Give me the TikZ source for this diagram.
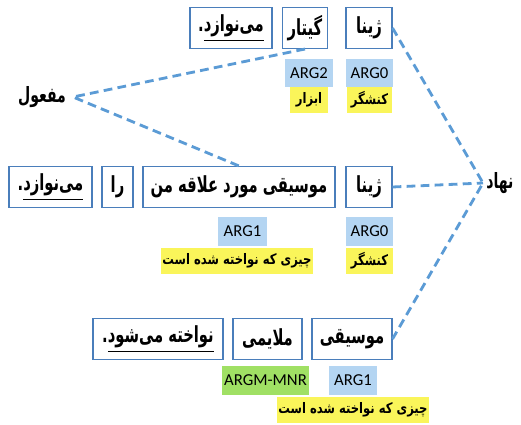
\documentclass[tikz,border=0pt]{standalone}
\usepackage{fontspec}
\usepackage{xcolor}
\usepackage{graphicx}
\usepackage{tikz}
\usetikzlibrary{positioning}
\TeXXeTstate=1
\newfontfamily\arabicfont[Script=Arabic]{DejaVu Sans}
\newfontfamily\labelfont{Carlito}
\newcommand{\fatext}[1]{{\arabicfont\beginR #1\endR}}
\newcommand{\wordtext}[1]{\scalebox{0.8}[1.2]{\fatext{#1}}}
\newcommand{\roletext}[1]{\scalebox{0.88}[1.1]{\fatext{#1}}}
\definecolor{BoxEdge}{RGB}{74,126,187}
\definecolor{DashBlue}{RGB}{91,155,213}
\definecolor{ArgBlue}{RGB}{180,213,242}
\definecolor{RoleYellow}{RGB}{250,245,90}
\definecolor{MnrGreen}{RGB}{160,224,100}
\tikzset{
  wbox/.style={draw=BoxEdge,fill=white,line width=0.6pt,minimum height=0.82cm,inner sep=2pt,font=\arabicfont\fontsize{10.5}{13}\selectfont\bfseries},
  abox/.style={fill=ArgBlue,minimum height=0.57cm,inner sep=1pt,font=\labelfont\fontsize{9.5}{10}\selectfont},
  gbox/.style={fill=MnrGreen,minimum height=0.57cm,inner sep=1pt,font=\labelfont\fontsize{9.5}{10}\selectfont},
  ybox/.style={fill=RoleYellow,minimum height=0.53cm,inner sep=1pt,font=\arabicfont\fontsize{7.5}{9}\selectfont\bfseries},
  tag/.style={font=\arabicfont\fontsize{10}{12}\selectfont\bfseries},
  dline/.style={DashBlue,line width=1.6pt,dash pattern=on 5pt off 3pt},
}
\begin{document}
\begin{tikzpicture}[x=0.02cm,y=-0.02cm]
  \useasboundingbox (0,0) rectangle (521,425);
  % first sentence
  \node[wbox,minimum width=0.92cm] (zinaA) at (369,28) {\wordtext{ژینا}};
  \node[wbox,minimum width=0.9cm] (guitar) at (305,28) {\wordtext{گیتار}};
  \node[wbox,minimum width=1.64cm] (verbA) at (231,28) {\wordtext{\underline{\beginR می‌نوازد\endR}.}};
  \node[abox,minimum width=0.94cm] (argzA) at (369.5,73) {ARG0};
  \node[ybox,minimum width=0.9cm] (agentA) at (369.5,100) {\roletext{کنشگر}};
  \node[abox,minimum width=0.96cm] (argtwo) at (309,73) {ARG2};
  \node[ybox,minimum width=0.76cm] (instr) at (309,100) {\roletext{ابزار}};
  % second sentence
  \node[wbox,minimum width=1.66cm] (verbB) at (50.5,187) {\wordtext{\underline{\beginR می‌نوازد\endR}.}};
  \node[wbox,minimum width=0.62cm] (ra) at (117.5,187) {\wordtext{را}};
  \node[wbox,minimum width=3.84cm] (music) at (239,187) {\wordtext{موسیقی مورد علاقه من}};
  \node[wbox,minimum width=0.92cm] (zinaB) at (369,187) {\wordtext{ژینا}};
  \node[abox,minimum width=0.98cm] (argoneB) at (242.5,231.5) {ARG1};
  \node[ybox,minimum width=2.6cm] (playedB) at (237,261) {\roletext{چیزی که نواخته شده است}};
  \node[abox,minimum width=0.94cm] (argzB) at (369.5,231.5) {ARG0};
  \node[ybox,minimum width=0.94cm] (agentB) at (369.5,261) {\roletext{کنشگر}};
  % third sentence
  \node[wbox,minimum width=1.6cm] (musicC) at (352,339) {\wordtext{موسیقی}};
  \node[wbox,minimum width=1.38cm] (soft) at (267.5,339) {\wordtext{ملایمی}};
  \node[wbox,minimum width=2.6cm] (verbC) at (158,339) {\wordtext{\underline{\beginR نواخته می‌شود\endR}.}};
  \node[gbox,minimum width=1.58cm] (mnr) at (265.5,380.5) {ARGM-MNR};
  \node[abox,minimum width=0.96cm] (argoneC) at (353,380.5) {ARG1};
  \node[ybox,minimum width=2.8cm] (playedC) at (353,410) {\roletext{چیزی که نواخته شده است}};
  % roles
  \node[tag] (object) at (42,97) {\wordtext{مفعول}};
  \node[tag] (subject) at (500,183) {\wordtext{نهاد}};
  \coordinate (objtip) at (73,97);
  \coordinate (subtip) at (483,183);
  \draw[dline] (guitar.south) -- (objtip) -- (music.north);
  \draw[dline] (zinaA.east) -- (subtip) -- (musicC.east);
  \draw[dline] (zinaB.east) -- (subtip);
\end{tikzpicture}
\end{document}
